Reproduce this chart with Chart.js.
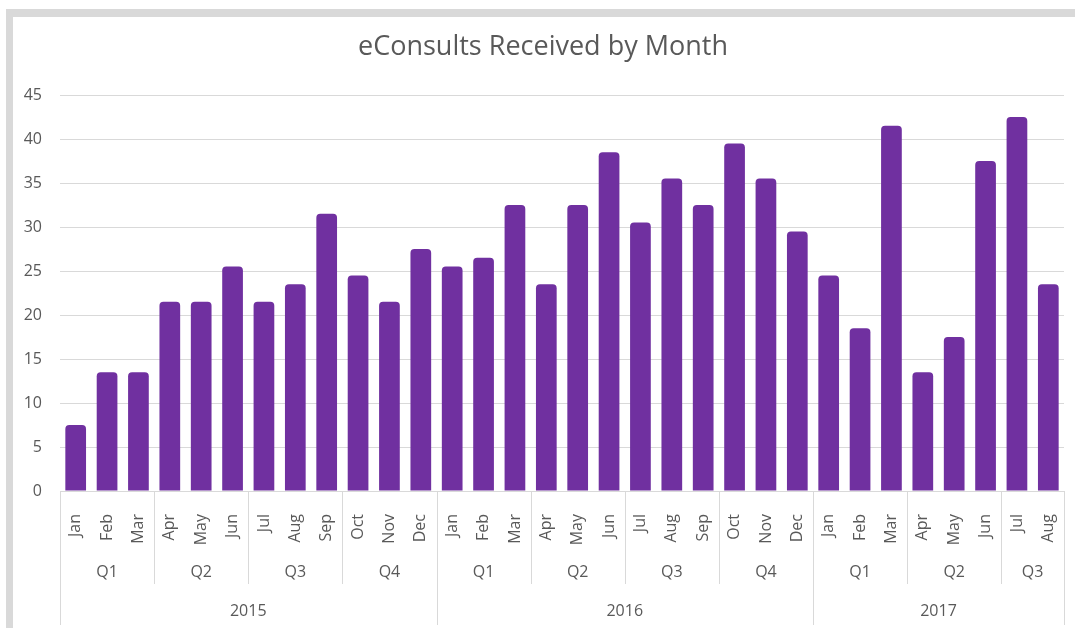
<!DOCTYPE html>
<html>
<head>
<meta charset="utf-8">
<script src="https://cdn.jsdelivr.net/npm/chart.js@4"></script>
<style>
  html, body { margin:0; padding:0; background:#fff; overflow:hidden; width:1075px; height:628px; }
  #frame { position:absolute; left:6px; top:9px; width:1062px; height:611px; border-top:8px solid #d9d9d9; border-left:7px solid #d9d9d9; }
  #wrap { position:absolute; left:0; top:0; width:1075px; height:628px; }
</style>
</head>
<body>
<div id="frame"></div>
<div id="wrap"><canvas id="chart"></canvas></div>
<script>
const months = ['Jan','Feb','Mar','Apr','May','Jun','Jul','Aug','Sep','Oct','Nov','Dec',
                'Jan','Feb','Mar','Apr','May','Jun','Jul','Aug','Sep','Oct','Nov','Dec',
                'Jan','Feb','Mar','Apr','May','Jun','Jul','Aug'];
const received = [7.5,13.5,13.5,21.5,21.5,25.5,21.5,23.5,31.5,24.5,21.5,27.5,
                  25.5,26.5,32.5,23.5,32.5,38.5,30.5,35.5,32.5,39.5,35.5,29.5,
                  24.5,18.5,41.5,13.5,17.5,37.5,42.5,23.5];
const quarters = ['Q1','Q2','Q3','Q4','Q1','Q2','Q3','Q4','Q1','Q2','Q3'];
const quarterSpans = [3,3,3,3,3,3,3,3,3,3,2];
const years = ['2015','2016','2017'];
const yearSpans = [12,12,8];
const yTicks = [0,5,10,15,20,25,30,35,40,45];

const textColor = '#595959';
const gridColor = '#d9d9d9';
const font = 'Open Sans';

// draws the quarter / year rows under the month labels
const groupAxis = {
  id:'groupAxis',
  afterDraw(chart){
    const ctx = chart.ctx, x = chart.scales.x, area = chart.chartArea;
    const edge = i => {
      if(i<=0) return area.left;
      if(i>=months.length) return area.right;
      return (x.getPixelForValue(i-1)+x.getPixelForValue(i))/2;
    };
    ctx.save();
    ctx.strokeStyle = gridColor;
    ctx.lineWidth = 1;
    ctx.fillStyle = textColor;
    ctx.font = '16px "'+font+'"';
    ctx.textAlign = 'center';
    ctx.textBaseline = 'middle';
    let i = 0;
    quarters.forEach((q,k)=>{
      const a = edge(i), b = edge(i+quarterSpans[k]);
      ctx.beginPath(); ctx.moveTo(Math.round(a)+0.5, area.bottom); ctx.lineTo(Math.round(a)+0.5, 584); ctx.stroke();
      ctx.fillText(q, (a+b)/2, 572);
      i += quarterSpans[k];
    });
    i = 0;
    years.forEach((y,k)=>{
      const a = edge(i), b = edge(i+yearSpans[k]);
      ctx.beginPath(); ctx.moveTo(Math.round(a)+0.5, area.bottom); ctx.lineTo(Math.round(a)+0.5, 625); ctx.stroke();
      ctx.fillText(y, (a+b)/2, 611);
      i += yearSpans[k];
    });
    const r = Math.round(edge(months.length))+0.5;
    ctx.beginPath(); ctx.moveTo(r, area.bottom); ctx.lineTo(r, 625); ctx.stroke();
    ctx.restore();
  }
};

new Chart(document.getElementById('chart'), {
  type:'bar',
  data:{
    labels: months,
    datasets:[{ label:'eConsults', data: received, backgroundColor:'#7030a0',
      barPercentage:0.66, categoryPercentage:1, borderRadius:4 }]
  },
  options:{
    responsive:true, maintainAspectRatio:false, animation:false,
    layout:{ padding:{ left:22, right:11, top:0, bottom:0 } },
    plugins:{
      legend:{ display:false }, tooltip:{ enabled:false },
      title:{ display:true, text:'eConsults Received by Month', color:textColor,
        font:{ family:font, size:27, weight:'normal' }, padding:{ top:31, bottom:31.6 } }
    },
    scales:{
      x:{
        grid:{ display:false }, border:{ display:false },
        ticks:{ autoSkip:false, maxRotation:90, minRotation:90, padding:15, color:textColor,
          font:{ family:font, size:16 } },
        afterFit(s){ s.height = 137; s.paddingLeft = 0; s.paddingRight = 0; }
      },
      y:{
        min:0, max:45,
        afterBuildTicks(s){ s.ticks = yTicks.map(v=>({value:v})); },
        grid:{ color:gridColor, drawTicks:false }, border:{ display:false },
        ticks:{ padding:18, color:textColor, font:{ family:font, size:16 } },
        afterFit(s){ s.width = 38; }
      }
    }
  },
  plugins:[groupAxis]
});
</script>
</body>
</html>
